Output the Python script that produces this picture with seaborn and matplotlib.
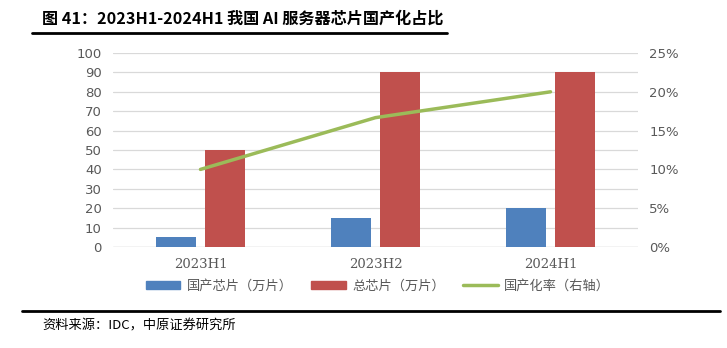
import matplotlib
matplotlib.use("Agg")
import matplotlib.pyplot as plt
import seaborn as sns
import pandas as pd
import numpy as np
from matplotlib.lines import Line2D
from matplotlib.patches import Patch

categories = ["2023H1", "2023H2", "2024H1"]
domestic = [5, 15, 20]
total = [50, 90, 90]
rate = [0.10, 0.1667, 0.20]
left_ticks = list(range(0, 101, 10))
right_ticks = [0, 0.05, 0.10, 0.15, 0.20, 0.25]
right_labels = ["0%", "5%", "10%", "15%", "20%", "25%"]

sns.set_theme(style="white")
plt.rcParams['font.family'] = ['Noto Sans CJK SC', 'DejaVu Sans']

df = pd.DataFrame({
    "cat": categories * 2,
    "series": ["国产芯片（万片）"] * 3 + ["总芯片（万片）"] * 3,
    "val": domestic + total,
})

fig = plt.figure(figsize=(7.27, 3.48), dpi=100)
ax = fig.add_axes([0.1554, 0.2902, 0.7222, 0.5575])

blue = "#4F81BD"
red = "#C0504D"
green = "#9BBB59"
gray = "#595959"

sns.barplot(data=df, x="cat", y="val", hue="series", palette=[blue, red],
            ax=ax, width=0.56, gap=0.2, legend=False, saturation=1, linewidth=0)
ax.set_xlim(-0.5, 2.5)
ax.set_ylim(0, 100)
ax.set_yticks(left_ticks)
ax.set_yticklabels([str(t) for t in left_ticks], color=gray, fontsize=9.5,
                   family=['DejaVu Sans'])
ax.yaxis.grid(True, color="#D9D9D9", linewidth=0.9)
ax.set_axisbelow(True)
for s in ax.spines.values():
    s.set_visible(False)
ax.axhline(0, color="#D9D9D9", linewidth=1, zorder=0.5)
ax.set_xlabel("")
ax.set_ylabel("")
ax.tick_params(axis="x", length=0, pad=8, labelsize=9.5, labelcolor=gray)
ax.tick_params(axis="y", length=0, pad=8)
for lab in ax.get_xticklabels():
    lab.set_family(['DejaVu Serif'])

ax2 = ax.twinx()
sns.lineplot(x=np.arange(3), y=rate, ax=ax2, color=green, linewidth=2.5)
ax2.set_ylim(0, 0.25)
ax2.set_yticks(right_ticks)
ax2.set_yticklabels(right_labels, color=gray, fontsize=9.5, family=['DejaVu Sans'])
ax2.tick_params(axis="y", length=0, pad=8)
for s in ax2.spines.values():
    s.set_visible(False)
ax2.set_xlim(-0.5, 2.5)

handles = [Patch(color=blue), Patch(color=red), Line2D([0], [0], color=green, lw=2.5)]
labels = ["国产芯片（万片）", "总芯片（万片）", "国产化率（右轴）"]
leg = fig.legend(handles, labels, loc="center", bbox_to_anchor=(0.52, 0.178),
                 ncol=3, frameon=False, fontsize=9.5, handlelength=2.6,
                 handleheight=0.6, columnspacing=1.4, handletextpad=0.5)
for t in leg.get_texts():
    t.set_color(gray)

fig.text(0.058, 0.945, "图 41：2023H1-2024H1 我国 AI 服务器芯片国产化占比",
         fontsize=11.6, fontweight="bold", color="black", va="center", ha="left")
fig.add_artist(Line2D([0.044, 0.615], [0.905, 0.905], color="black", lw=2))
fig.add_artist(Line2D([0.030, 0.99], [0.107, 0.107], color="black", lw=2))
fig.text(0.058, 0.062, "资料来源：IDC，中原证券研究所", fontsize=9.5,
         color="black", va="center", ha="left")

fig.savefig("out.png", dpi=100)
